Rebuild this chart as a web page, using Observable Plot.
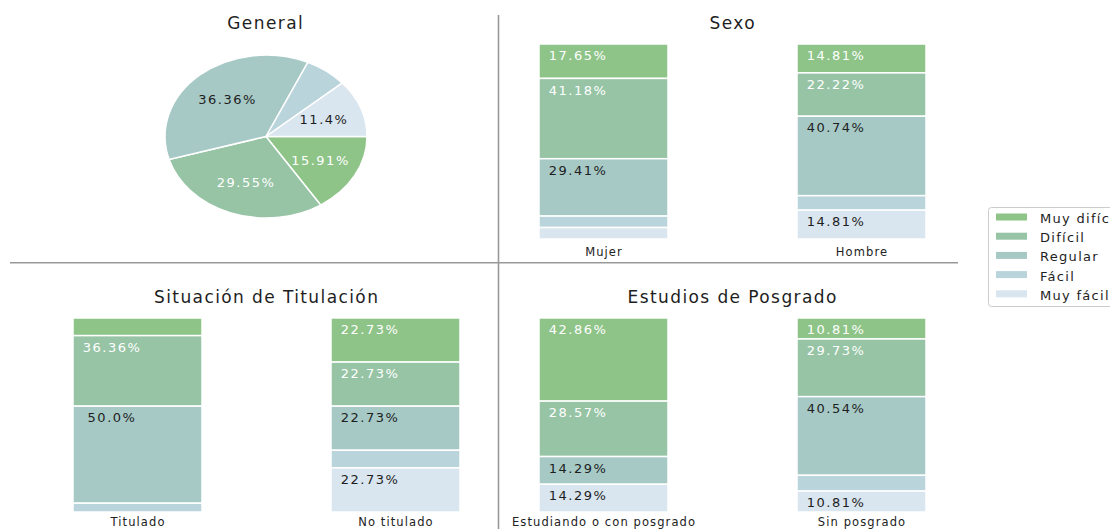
<!DOCTYPE html>
<html>
<head>
<meta charset="utf-8">
<script src="https://cdn.jsdelivr.net/npm/d3@7"></script>
<script src="https://cdn.jsdelivr.net/npm/@observablehq/plot@0.6"></script>
<style>
html, body { margin: 0; padding: 0; background: #fff; }
#root { position: relative; width: 1110px; height: 529px; overflow: hidden; font-family: "DejaVu Sans", sans-serif; background: #fff; }
#root svg { position: absolute; }
</style>
</head>
<body>
<div id="root"></div>
<script>
// ---------------- data ----------------
const levels = ["Muy difícil", "Difícil", "Regular", "Fácil", "Muy fácil"];
const levelColors = ["#8ec488", "#96c4a5", "#a6c9c6", "#bad4dc", "#d9e5ef"];
const lightLabelLevels = ["Muy difícil", "Difícil"];

const generalValues = [15.91, 29.55, 36.36, 6.82, 11.4];

const sexoCategories = ["Mujer", "Hombre"];
const sexoMujer = [17.65, 41.18, 29.41, 5.88, 5.88];
const sexoHombre = [14.81, 22.22, 40.74, 7.41, 14.81];

const titulacionCategories = ["Titulado", "No titulado"];
const titulado = [9.09, 36.36, 50.0, 4.55, 0];
const noTitulado = [22.73, 22.73, 22.73, 9.09, 22.73];

const posgradoCategories = ["Estudiando o con posgrado", "Sin posgrado"];
const conPosgrado = [42.86, 28.57, 14.29, 0, 14.29];
const sinPosgrado = [10.81, 29.73, 40.54, 8.11, 10.81];

const panelTitles = ["General", "Sexo", "Situación de Titulación", "Estudios de Posgrado"];
const labelThreshold = 10;

// ---------------- helpers ----------------
const root = document.getElementById("root");
const fmt = v => (Number.isInteger(v) ? v.toFixed(1) : String(v)) + "%";
const colorOf = l => levelColors[levels.indexOf(l)];

function place(node, left, top) {
  node.style.position = "absolute";
  node.style.left = left + "px";
  node.style.top = top + "px";
  root.appendChild(node);
  d3.select(node).selectAll('g[aria-label="text"] text').style("letter-spacing", "1.5px");
  d3.select(node).selectAll('g[aria-label="x-axis tick label"] text').style("letter-spacing", "1.1px");
  return node;
}

// ---------------- pie (General) ----------------
const pieArcs = d3.pie().sort(null)
  .startAngle(Math.PI / 2).endAngle(Math.PI / 2 + 2 * Math.PI)(generalValues)
  .map((a, i) => ({...a, level: levels[i]}));
const pieLabels = pieArcs.map(a => {
  const m = (a.startAngle + a.endAngle) / 2;
  return {level: a.level, value: a.value, x: 0.6 * Math.sin(m), y: 0.6 * Math.cos(m)};
});
const arcGen = d3.arc().innerRadius(0).outerRadius(1);

const piePlot = Plot.plot({
  width: 206, height: 167,
  marginTop: 2, marginBottom: 2, marginLeft: 2, marginRight: 2,
  style: {fontFamily: "DejaVu Sans", fontSize: "13px", background: "transparent", overflow: "visible"},
  x: {domain: [-1, 1], axis: null},
  y: {domain: [-1, 1], axis: null},
  marks: [
    (index, scales) => {
      const cx = scales.x(0), cy = scales.y(0);
      const rx = scales.x(1) - cx, ry = cy - scales.y(1);
      const g = d3.create("svg:g");
      g.selectAll("path").data(pieArcs).join("path")
        .attr("d", arcGen)
        .attr("transform", `translate(${cx},${cy}) scale(${rx},${ry})`)
        .attr("fill", d => colorOf(d.level))
        .attr("stroke", "white")
        .attr("stroke-width", 1.5)
        .attr("vector-effect", "non-scaling-stroke");
      return g.node();
    },
    Plot.text(pieLabels, {
      filter: d => d.value > labelThreshold && lightLabelLevels.includes(d.level),
      x: "x", y: "y", text: d => fmt(d.value), fill: "white", fontSize: 13, dx: 0.75
    }),
    Plot.text(pieLabels, {
      filter: d => d.value > labelThreshold && !lightLabelLevels.includes(d.level),
      x: "x", y: "y", text: d => fmt(d.value), fill: "#1e1e1e", fontSize: 13, dx: 0.75
    })
  ]
});
place(piePlot, 163, 53);

// ---------------- stacked bar panels ----------------
function barPanel(cats, series, left, top, height, marginBottom, tickPadding) {
  const rows = [];
  cats.forEach((c, i) => levels.forEach((l, j) => {
    if (series[i][j] > 0) rows.push({cat: c, level: l, value: series[i][j]});
  }));
  const order = levels.slice().reverse();
  const common = {x: "cat", y: "value", z: "level", order};
  const plot = Plot.plot({
    width: 440, height,
    marginTop: 4, marginBottom, marginLeft: 0, marginRight: 0,
    style: {fontFamily: "DejaVu Sans", fontSize: "11.5px", color: "#222", background: "transparent", overflow: "visible"},
    x: {domain: cats, paddingInner: 0.5, paddingOuter: 0.1, label: null, tickSize: 0, tickPadding},
    y: {domain: [0, 100], axis: null},
    color: {domain: levels, range: levelColors},
    marks: [
      Plot.barY(rows, Plot.stackY({...common, fill: "level", stroke: "white", strokeWidth: 1.5})),
      Plot.text(rows, Plot.stackY2({
        ...common,
        text: d => (d.value > labelThreshold && lightLabelLevels.includes(d.level)) ? fmt(d.value) : null,
        fill: "white", fontSize: 13, dy: 11.5, dx: -26
      })),
      Plot.text(rows, Plot.stackY2({
        ...common,
        text: d => (d.value > labelThreshold && !lightLabelLevels.includes(d.level)) ? fmt(d.value) : null,
        fill: "#1e1e1e", fontSize: 13, dy: 11.5, dx: -26
      }))
    ]
  });
  return place(plot, left, top);
}

barPanel(sexoCategories, [sexoMujer, sexoHombre], 512, 40, 221, 22, 8);
barPanel(titulacionCategories, [titulado, noTitulado], 46, 314, 215, 17, 5);
barPanel(posgradoCategories, [conPosgrado, sinPosgrado], 512, 314, 215, 17, 5);

// ---------------- overlay: dividers, titles, legend ----------------
const overlay = d3.create("svg")
  .attr("width", 1110).attr("height", 529)
  .style("left", "0px").style("top", "0px")
  .style("pointer-events", "none")
  .style("font-family", "DejaVu Sans");

overlay.append("line").attr("x1", 498.5).attr("x2", 498.5).attr("y1", 15).attr("y2", 529)
  .attr("stroke", "#999").attr("stroke-width", 1.6);
overlay.append("line").attr("x1", 10).attr("x2", 958).attr("y1", 262.7).attr("y2", 262.7)
  .attr("stroke", "#999").attr("stroke-width", 1.6);

const titlePos = [[265, 28.5], [732, 28.5], [266, 302.5], [732, 302.5]];
overlay.selectAll("text.title").data(panelTitles).join("text")
  .attr("class", "title")
  .attr("x", (d, i) => titlePos[i][0] + 0.7)
  .attr("y", (d, i) => titlePos[i][1])
  .attr("text-anchor", "middle")
  .attr("font-size", 17)
  .attr("letter-spacing", "1.4px")
  .attr("fill", "#1e1e1e")
  .text(d => d);

const lg = overlay.append("g");
lg.append("rect").attr("x", 988.5).attr("y", 207.5).attr("width", 200).attr("height", 99)
  .attr("rx", 3).attr("fill", "white").attr("fill-opacity", 0.85).attr("stroke", "#cccccc");
const rowsG = lg.selectAll("g.row").data(levels).join("g").attr("class", "row")
  .attr("transform", (d, i) => `translate(0,${217 + i * 19.2})`);
rowsG.append("rect").attr("x", 996).attr("y", -3.5).attr("width", 31).attr("height", 7)
  .attr("fill", (d, i) => levelColors[i]);
rowsG.append("text").attr("x", 1040).attr("y", 1.5).attr("dy", "0.35em")
  .attr("font-size", 13).attr("letter-spacing", "1.3px").attr("fill", "#1e1e1e")
  .text(d => d);

root.appendChild(overlay.node());
</script>
</body>
</html>
